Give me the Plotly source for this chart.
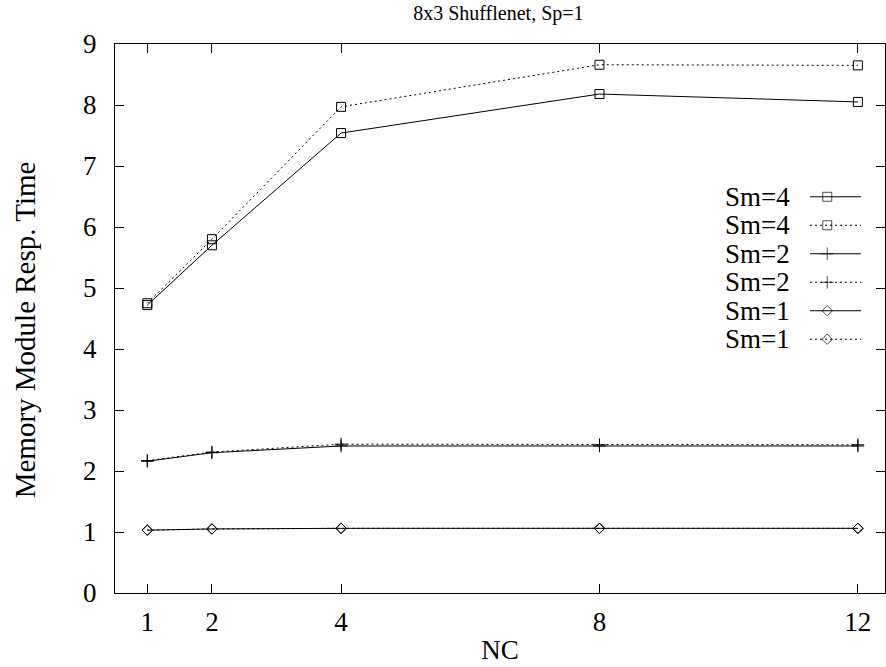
import plotly.graph_objects as go

# ---- data ----
nc = [1, 2, 4, 8, 12]
sm4_solid = [4.72, 5.70, 7.54, 8.18, 8.05]
sm4_dot = [4.75, 5.80, 7.97, 8.66, 8.65]
sm2_solid = [2.16, 2.30, 2.41, 2.41, 2.41]
sm2_dot = [2.17, 2.31, 2.44, 2.43, 2.43]
sm1_solid = [1.03, 1.05, 1.06, 1.06, 1.06]
sm1_dot = [1.03, 1.05, 1.06, 1.06, 1.06]

labels = ["Sm=4", "Sm=4", "Sm=2", "Sm=2", "Sm=1", "Sm=1"]
x_ticks = [1, 2, 4, 8, 12]
y_ticks = [0, 1, 2, 3, 4, 5, 6, 7, 8, 9]

FONT = "Liberation Serif, Times New Roman, serif"
DOT = "2px,3px"

series = [
    (sm4_solid, "solid", "square-open", 9),
    (sm4_dot, DOT, "square-open", 9),
    (sm2_solid, "solid", "cross-thin-open", 9),
    (sm2_dot, DOT, "cross-thin-open", 9),
    (sm1_solid, "solid", "diamond-open", 8),
    (sm1_dot, DOT, "diamond-open", 8),
]

fig = go.Figure()
for vals, dash, sym, size in series:
    fig.add_trace(go.Scatter(
        x=nc, y=vals, mode="lines+markers",
        line=dict(color="black", width=1, dash=dash),
        marker=dict(symbol=sym, size=size, color="black",
                    line=dict(color="black", width=1)),
        showlegend=False, hoverinfo="x+y",
    ))

# ---- gnuplot-style key (text left, sample right) ----
key_top = 0.7217
key_step = 0.0519
for i, ((vals, dash, sym, size), lab) in enumerate(zip(series, labels)):
    yk = key_top - i * key_step
    fig.add_trace(go.Scatter(
        x=[0.9026, 0.9250, 0.9689], y=[yk, yk, yk],
        xaxis="x2", yaxis="y2", mode="lines+markers",
        line=dict(color="black", width=1, dash=dash),
        marker=dict(symbol=sym, size=[0, size, 0], color="black",
                    line=dict(color="black", width=1)),
        showlegend=False, hoverinfo="skip",
    ))
    fig.add_annotation(
        x=0.8793, y=yk, xref="x2", yref="y2", text=lab,
        showarrow=False, xanchor="right", yanchor="middle",
        font=dict(family=FONT, size=27, color="black"),
    )

# y-axis title (placed like gnuplot's, slightly below centre)
fig.add_annotation(
    x=-0.1165, y=0.479, xref="paper", yref="paper",
    text="Memory Module Resp. Time", textangle=-90,
    showarrow=False, xanchor="center", yanchor="middle",
    font=dict(family=FONT, size=29, color="black"),
)

axis_common = dict(
    showline=True, linecolor="black", linewidth=1, mirror="allticks",
    ticks="inside", ticklen=9, tickcolor="black", tickwidth=1,
    showgrid=False, zeroline=False, automargin=False,
    tickfont=dict(family=FONT, size=27, color="black"),
)

fig.update_layout(
    width=886, height=667,
    margin=dict(l=115, r=1, t=44, b=74),
    plot_bgcolor="white", paper_bgcolor="white",
    title=dict(text="8x3 Shufflenet, Sp=1", x=0.5625, xanchor="center",
               y=0.991, yanchor="top",
               font=dict(family=FONT, size=20, color="black")),
    xaxis=dict(range=[0.5, 12.42], tickvals=x_ticks,
               ticklabelstandoff=5,
               title=dict(text="NC", standoff=3,
                          font=dict(family=FONT, size=27, color="black")),
               **axis_common),
    yaxis=dict(range=[0, 9], tickvals=y_ticks,
               ticklabelstandoff=12,
               **axis_common),
    xaxis2=dict(range=[0, 1], overlaying="x", visible=False, fixedrange=True),
    yaxis2=dict(range=[0, 1], overlaying="y", visible=False, fixedrange=True),
    showlegend=False,
)

fig.write_html("out.html",
               config={"displayModeBar": False},
               post_script="document.body.style.margin='0';")
